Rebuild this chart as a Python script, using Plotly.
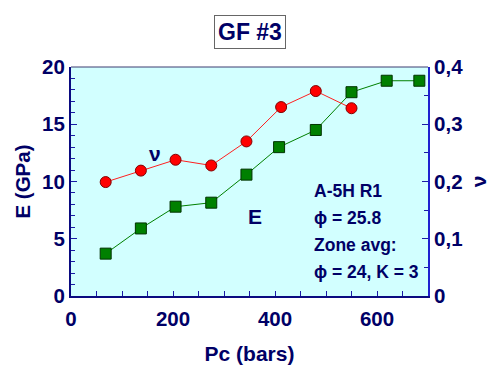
import plotly.graph_objects as go

pc_E = [68, 137, 205, 275, 344, 408, 480, 550, 619, 683]
E_gpa = [3.7, 5.9, 7.8, 8.15, 10.6, 13.0, 14.5, 17.8, 18.8, 18.8]
pc_nu = [68, 137, 205, 275, 344, 412, 480, 550]
nu = [0.199, 0.219, 0.238, 0.228, 0.27, 0.33, 0.358, 0.328]

x_ticks = [0, 200, 400, 600]
yl_ticks = [0, 5, 10, 15, 20]
yr_ticks = [0, 0.1, 0.2, 0.3, 0.4]
yr_text = ["0", "0,1", "0,2", "0,3", "0,4"]

NAVY = "#000066"
AX = "#1a1aa6"
FONT = "Liberation Sans"

OFF = 8  # default page body margin
W, H = 495 - OFF, 365 - OFF
L, T = 71 - OFF, 67 - OFF
R = W - (428 - OFF)
B = H - (296 - OFF)
PW = W - L - R
PH = H - T - B


def px(xp):
    return (xp - 71) / PW


def py(yp):
    return 1 - (yp - 67) / PH


fig = go.Figure()
fig.add_trace(go.Scatter(
    x=pc_E, y=E_gpa, mode="lines+markers", yaxis="y",
    line=dict(color="#008000", width=1),
    marker=dict(symbol="square", size=11, color="#008000",
                line=dict(color="#003300", width=1)),
    showlegend=False, cliponaxis=False))
fig.add_trace(go.Scatter(
    x=pc_nu, y=nu, mode="lines+markers", yaxis="y2",
    line=dict(color="#ff2020", width=1),
    marker=dict(symbol="circle", size=11, color="#ff0000",
                line=dict(color="#800000", width=1)),
    showlegend=False, cliponaxis=False))

TS = 20.5
tickfont = dict(family=FONT, size=TS, color=NAVY)
fig.update_layout(
    width=W, height=H,
    margin=dict(l=L, r=R, t=T, b=B),
    paper_bgcolor="white",
    plot_bgcolor="#d2ffff",
    font=dict(family=FONT, color=NAVY),
    xaxis=dict(range=[0, 700], tickvals=x_ticks, ticktext=[f"<b>{v}</b>" for v in x_ticks],
               ticks="inside", ticklen=5, automargin=False, ticklabelstandoff=3,
               tickcolor=AX, showline=True, linecolor="#0a0a80", linewidth=2,
               showgrid=False, zeroline=False, tickfont=tickfont,
               minor=dict(dtick=50, ticks="inside", ticklen=5, tickcolor=AX),
               title=dict(text="<b>Pc (bars)</b>", font=dict(family=FONT, size=21, color=NAVY), standoff=18)),
    yaxis=dict(range=[0, 20], tickvals=yl_ticks, ticks="inside", ticklen=6, automargin=False,
               tickcolor=AX, showline=True, linecolor="#0a0a80", linewidth=2,
               showgrid=False, zeroline=False, tickfont=tickfont,
               ticktext=[f"<b>{v}</b>" for v in yl_ticks],
               minor=dict(dtick=1, ticks="inside", ticklen=4, tickcolor=AX),
               title=dict(text="<b>E (GPa)</b>", font=dict(family=FONT, size=20.5, color=NAVY), standoff=6)),
    yaxis2=dict(range=[0, 0.4], tickvals=yr_ticks, ticktext=[f"<b>{t}</b>" for t in yr_text],
                overlaying="y", side="right", ticks="inside", ticklen=6, automargin=False,
                tickcolor=AX, showline=True, linecolor="#2020d0", linewidth=2,
                showgrid=False, zeroline=False, tickfont=tickfont,
                minor=dict(dtick=0.05, ticks="inside", ticklen=4, tickcolor=AX),
                title=dict(text="<b>ν</b>", font=dict(family=FONT, size=21, color=NAVY), standoff=9)),
)

# top border of the plot frame
fig.add_shape(type="line", xref="paper", yref="paper", x0=0, x1=1, y0=1, y1=1,
              line=dict(color="#3c3c70", width=1))

fig.add_annotation(x=px(250), y=py(32), xref="paper", yref="paper",
                   yanchor="middle", text="<b>GF #3</b>", showarrow=False,
                   font=dict(family=FONT, size=23, color=NAVY),
                   bordercolor="#666666", borderwidth=1, borderpad=3, bgcolor="white")

fig.add_annotation(x=px(147), y=py(153), xref="paper", yref="paper",
                   text="<b>ν</b>", showarrow=False,
                   font=dict(family=FONT, size=21, color=NAVY))
fig.add_annotation(x=px(255), y=py(216), xref="paper", yref="paper",
                   text="<b>E</b>", showarrow=False,
                   font=dict(family=FONT, size=21, color=NAVY))
lines = ["A-5H R1", "ϕ = 25.8", "Zone avg:", "ϕ = 24, K = 3"]
for i, t in enumerate(lines):
    yc = 191 + i * 27
    fig.add_annotation(x=px(312), y=py(yc), xref="paper", yref="paper",
                       xanchor="left", yanchor="middle",
                       text=f"<b>{t}</b>", showarrow=False,
                       font=dict(family=FONT, size=17.5, color=NAVY))

fig.write_html("out.html")
